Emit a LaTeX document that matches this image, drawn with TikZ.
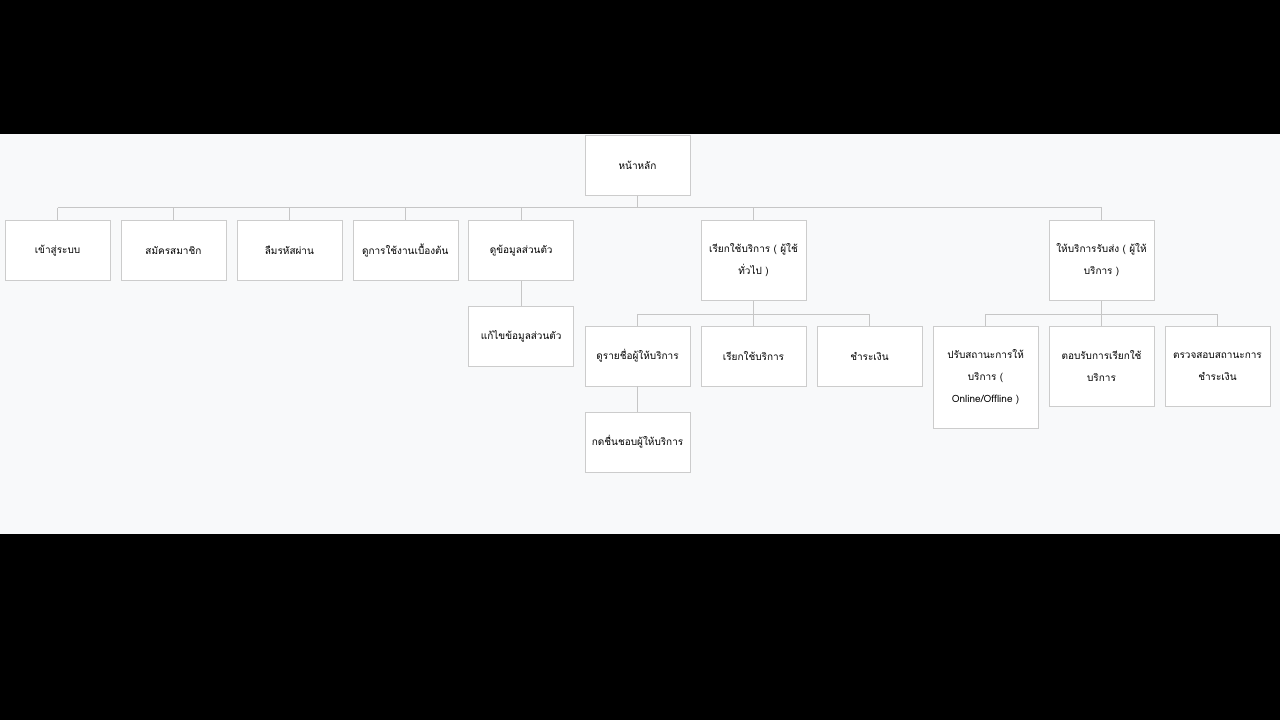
\documentclass[tikz,border=0pt]{standalone}
\usepackage{fontspec}
\newfontfamily\thaifont[Script=Thai]{Loma}
\usetikzlibrary{positioning,shadows}
\definecolor{pagebg}{HTML}{F8F9FA}
\definecolor{boxline}{HTML}{CCCCCC}
\definecolor{linkgray}{HTML}{C6C6C6}
\tikzset{
  box/.style   = {draw=boxline, fill=white, minimum width=78.75pt, minimum height=45pt,
                  inner sep=2pt, align=center, text=black,
                  font=\thaifont\fontsize{7.5}{16.5}\selectfont,
                  drop shadow={opacity=0.22, shadow xshift=0.5pt, shadow yshift=-0.9pt}},
  tall/.style  = {minimum height=60pt},
  taller/.style= {minimum height=76.5pt},
  link/.style  = {draw=linkgray, line width=0.75pt},
}
\begin{document}
\begin{tikzpicture}[x=0.75pt, y=-0.75pt, node distance=19pt and 7.8pt]
    % page: black bands with the light canvas between them
    \fill[black] (0,0) rectangle (1280,720);
    \fill[pagebg] (0,134) rectangle (1280,534);
    \useasboundingbox (0,0) rectangle (1280,720);

    % top level
    \node[box,anchor=north] (home) at (637.5,135) {หน้าหลัก};

    % first level
    \node[box,anchor=north] (login) at (57.5,220) {เข้าสู่ระบบ};
    \node[box,right=of login] (signup) {สมัครสมาชิก};
    \node[box,right=of signup] (forgot) {ลืมรหัสผ่าน};
    \node[box,right=of forgot] (guide) {ดูการใช้งานเบื้องต้น};
    \node[box,right=of guide] (profile) {ดูข้อมูลส่วนตัว};
    \node[box,tall,anchor=north] (service) at (753.5,220) {เรียกใช้บริการ ( ผู้ใช้\\ทั่วไป )};
    \node[box,tall,anchor=north] (provider) at (1101.5,220) {ให้บริการรับส่ง ( ผู้ให้\\บริการ )};

    % second level
    \node[box,below=of profile] (edit) {แก้ไขข้อมูลส่วนตัว};
    \node[box,below=of service] (request) {เรียกใช้บริการ};
    \node[box,left=of request] (browse) {ดูรายชื่อผู้ให้บริการ};
    \node[box,right=of request] (pay) {ชำระเงิน};
    \node[box,tall,below=of provider] (accept) {ตอบรับการเรียกใช้\\บริการ};
    \node[box,taller,left=of accept.north west,anchor=north east] (status) {ปรับสถานะการให้\\บริการ (\\Online/Offline )};
    \node[box,tall,right=of accept] (paycheck) {ตรวจสอบสถานะการ\\ชำระเงิน};

    % third level
    \node[box,below=of browse] (like) {กดชื่นชอบผู้ให้บริการ};

    % connectors
    \coordinate (bus1) at (0,208);
    \coordinate (bus2) at (0,314);
    \draw[link] (home.south) -- (home.south |- bus1);
    \draw[link] (login.north |- bus1) -- (provider.north |- bus1);
    \foreach \n in {login,signup,forgot,guide,profile,service,provider}
        \draw[link] (\n.north) -- (\n.north |- bus1);

    \draw[link] (profile) -- (edit);

    \draw[link] (service.south) -- (service.south |- bus2);
    \draw[link] (browse.north |- bus2) -- (pay.north |- bus2);
    \foreach \n in {browse,request,pay}
        \draw[link] (\n.north) -- (\n.north |- bus2);

    \draw[link] (provider.south) -- (provider.south |- bus2);
    \draw[link] (status.north |- bus2) -- (paycheck.north |- bus2);
    \foreach \n in {status,accept,paycheck}
        \draw[link] (\n.north) -- (\n.north |- bus2);

    \draw[link] (browse) -- (like);
\end{tikzpicture}
\end{document}
